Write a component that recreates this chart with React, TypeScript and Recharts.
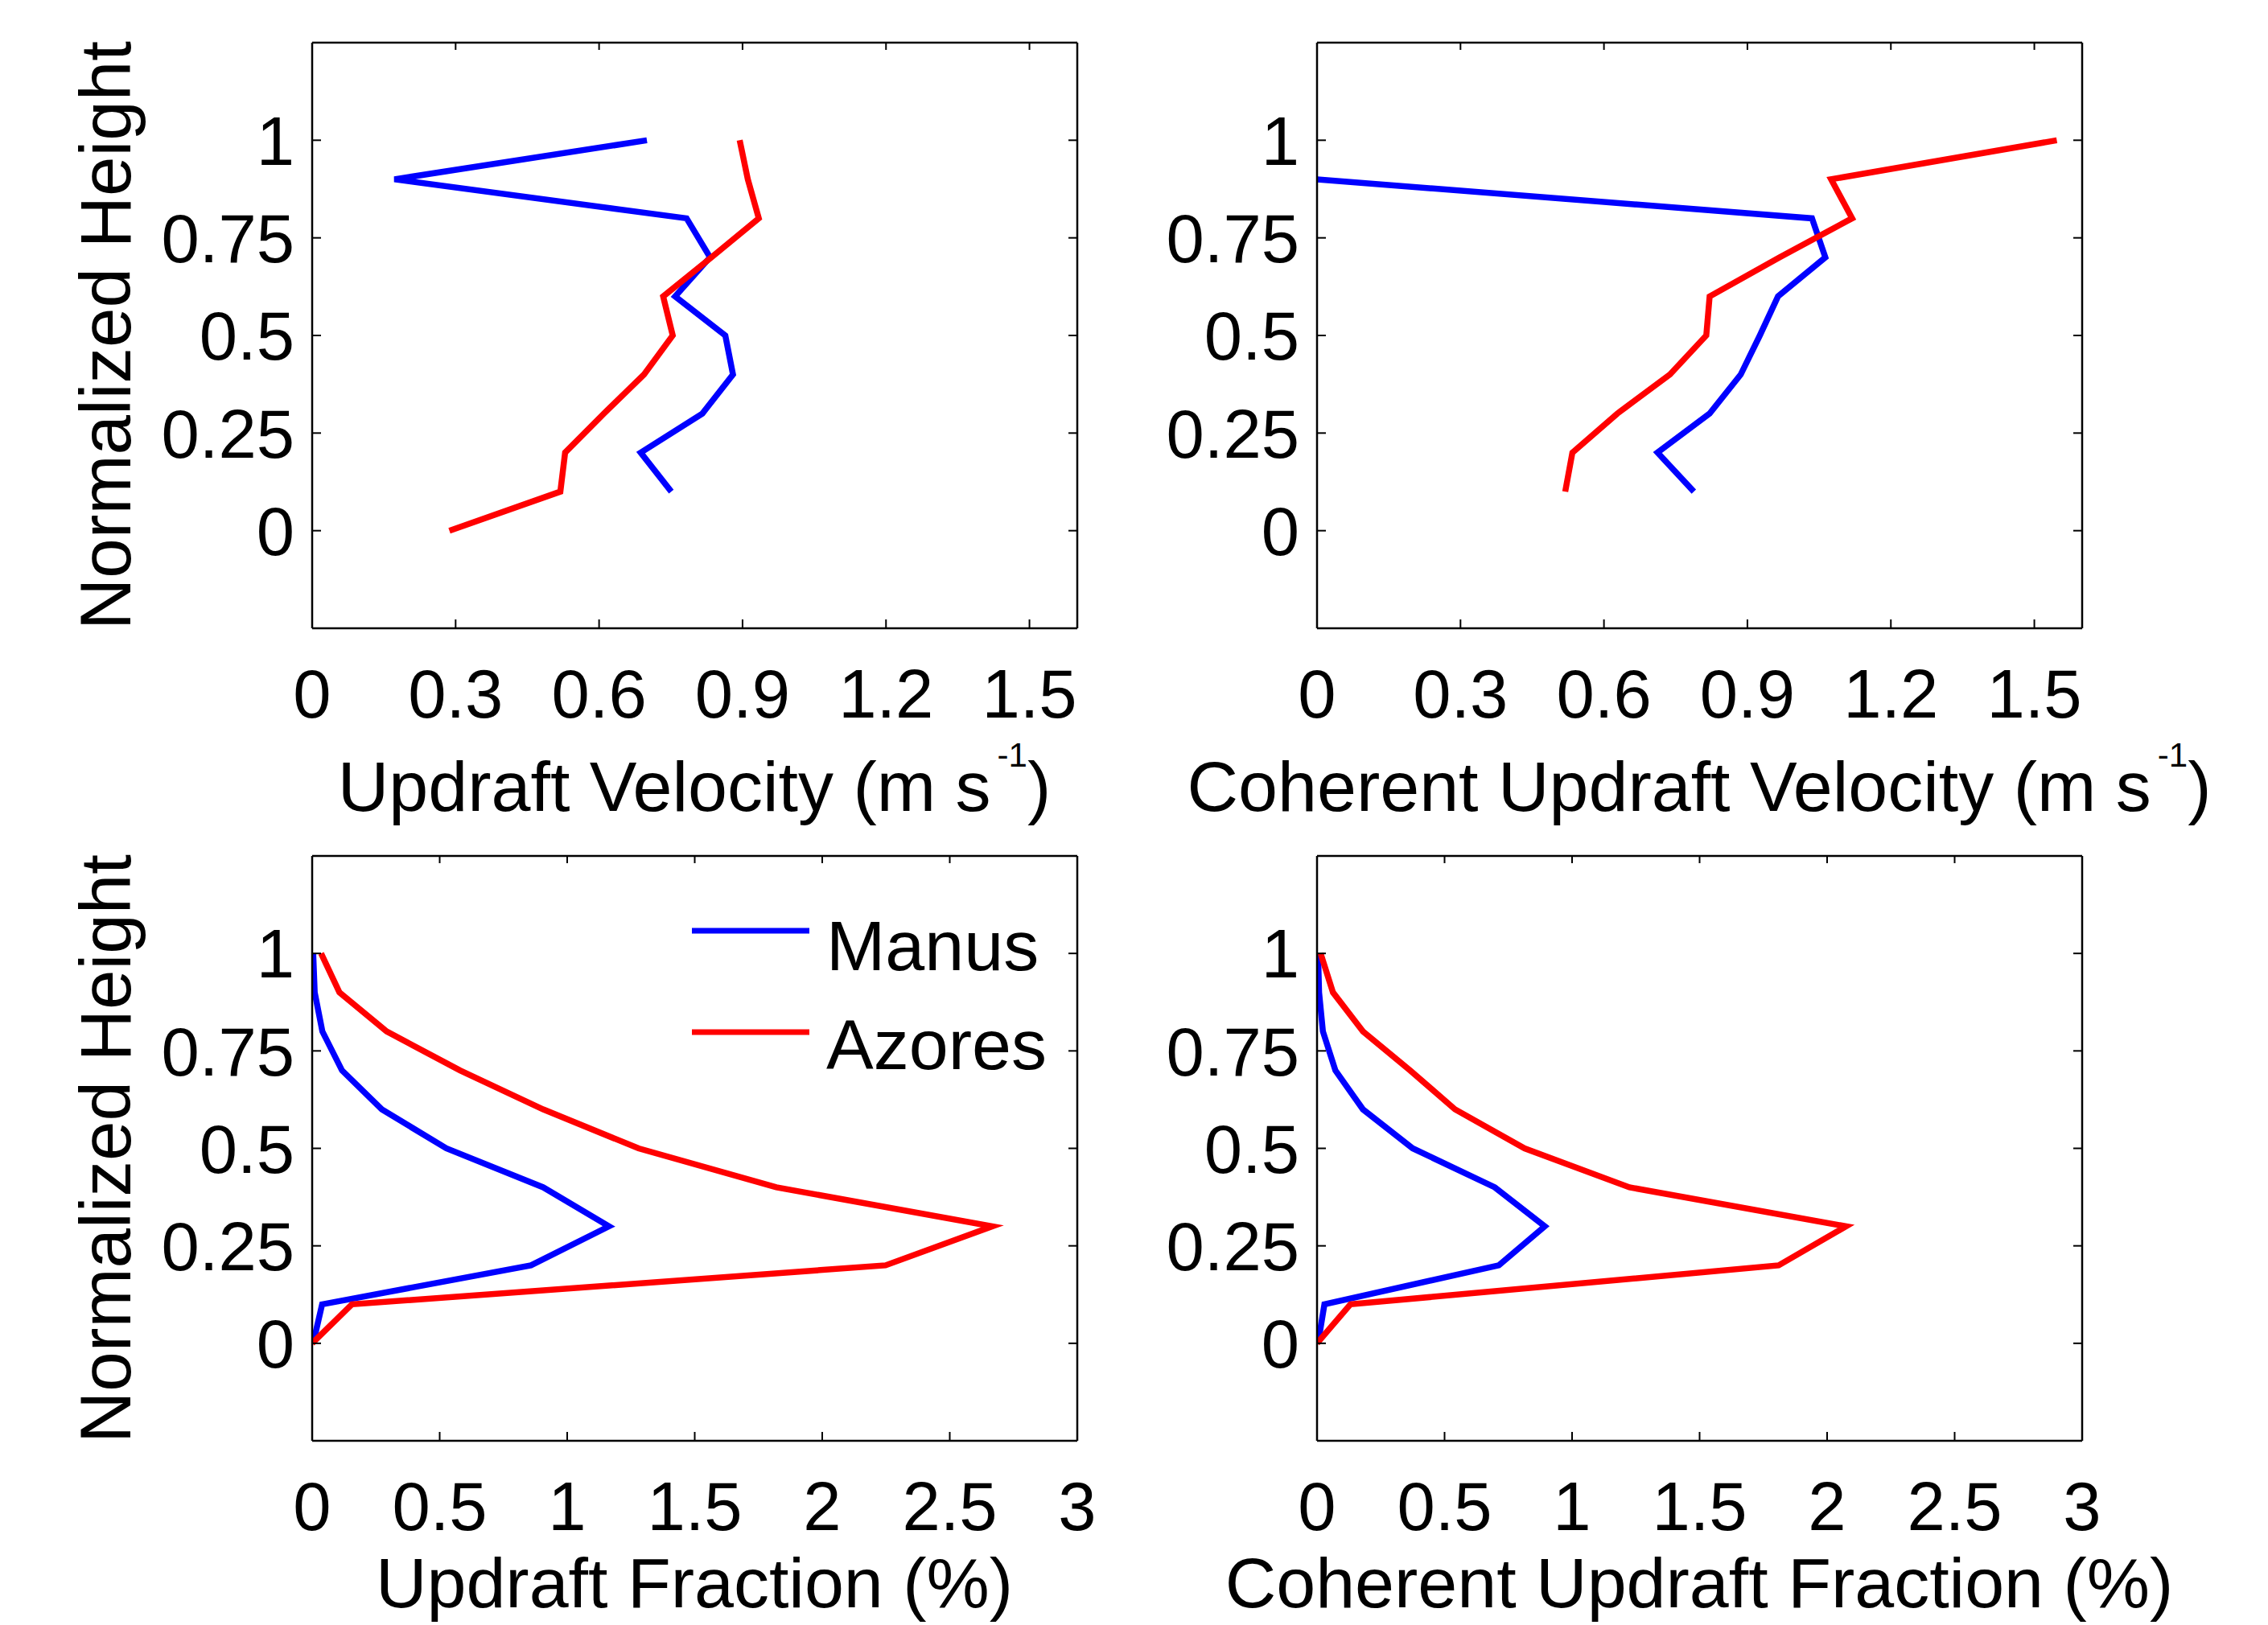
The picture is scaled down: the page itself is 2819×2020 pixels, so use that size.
import { LineChart, Line, XAxis, YAxis, Legend } from 'recharts'

// normalized height levels shared by every panel
const heights = [0, 0.1, 0.2, 0.3, 0.4, 0.5, 0.6, 0.7, 0.8, 0.9, 1.0]

// updraft velocity (m/s)
const velManus = [null, 0.751, 0.687, 0.816, 0.88, 0.864, 0.759, 0.832, 0.783, 0.172, 0.7]
const velAzores = [0.287, 0.519, 0.529, 0.61, 0.694, 0.754, 0.734, 0.835, 0.934, 0.911, 0.894]

// coherent updraft velocity (m/s)
const cohVelManus = [null, 0.788, 0.712, 0.821, 0.886, 0.926, 0.964, 1.063, 1.035, 0.0, null]
const cohVelAzores = [null, 0.519, 0.534, 0.628, 0.738, 0.814, 0.821, 0.967, 1.119, 1.075, 1.547]

// updraft fraction (%)
const fracManus = [0.004, 0.039, 0.858, 1.164, 0.906, 0.526, 0.273, 0.117, 0.04, 0.01, 0.004]
const fracAzores = [0.0, 0.156, 2.248, 2.667, 1.82, 1.28, 0.906, 0.58, 0.292, 0.107, 0.035]

// coherent updraft fraction (%)
const cohFracManus = [0.004, 0.029, 0.713, 0.893, 0.697, 0.375, 0.18, 0.072, 0.023, 0.008, 0.004]
const cohFracAzores = [0.0, 0.131, 1.81, 2.074, 1.225, 0.814, 0.541, 0.365, 0.18, 0.0625, 0.014]

const sites = ['Manus', 'Azores']
const yTicks = [0, 0.25, 0.5, 0.75, 1]
const velTicks = [0, 0.3, 0.6, 0.9, 1.2, 1.5]
const fracTicks = [0, 0.5, 1, 1.5, 2, 2.5, 3]

const FONT = '"Liberation Sans", Arial, Helvetica, sans-serif'
const BLUE = '#0000ff'
const RED = '#ff0000'

function rows(manus: (number | null)[], azores: (number | null)[]) {
  return heights.map((h, i) => ({ h, Manus: manus[i], Azores: azores[i] }))
}

function YTitle() {
  return (
    <text
      x={162}
      y={417}
      transform="rotate(-90 162 417)"
      textAnchor="middle"
      fontSize={89}
      fontFamily={FONT}
      fill="#000"
    >
      Normalized Height
    </text>
  )
}

function XTitle({ text, sup, baseline }: { text: string; sup?: boolean; baseline: number }) {
  return (
    <text x={863} y={baseline} textAnchor="middle" fontSize={88} fontFamily={FONT} fill="#000">
      {text}
      {sup && (
        <tspan fontSize={42} dx={8} dy={-55}>
          -1
        </tspan>
      )}
      {sup && <tspan dy={55}>)</tspan>}
    </text>
  )
}

function LegendBox({ payload }: any) {
  const items = [...(payload ?? [])].sort(
    (a: any, b: any) => sites.indexOf(a.value) - sites.indexOf(b.value)
  )
  return (
    <svg width={460} height={240} style={{ display: 'block' }}>
      {items.map((p: any, i: number) => (
        <g key={p.value}>
          <line x1={10} x2={156} y1={46 + i * 126} y2={46 + i * 126} stroke={p.color} strokeWidth={7} />
          <text x={177} y={95 + i * 123} fontSize={88} fontFamily={FONT} fill="#000">
            {p.value}
          </text>
        </g>
      ))}
    </svg>
  )
}

interface PanelProps {
  data: { h: number; Manus: number | null; Azores: number | null }[]
  xTicks: number[]
  xMax: number
  left: number
  top: number
  width: number
  height: number
  axisHeight: number
  rightMargin: number
  xTitle: string
  sup?: boolean
  titleBaseline: number
  yTitle?: boolean
  legend?: boolean
}

function Panel(p: PanelProps) {
  const tickStyle = { fontSize: 85, fill: '#000', fontFamily: FONT }
  const axisLine = { stroke: '#000', strokeWidth: 2.5 }
  const tickLine = { stroke: '#000', strokeWidth: 2 }
  return (
    <div style={{ position: 'absolute', left: p.left, top: p.top }}>
      <LineChart
        width={p.width}
        height={p.height}
        data={p.data}
        layout="vertical"
        margin={{ top: 52, right: p.rightMargin, bottom: 0, left: 0 }}
      >
        <XAxis
          type="number"
          xAxisId={0}
          domain={[0, p.xMax]}
          allowDataOverflow
          ticks={p.xTicks}
          interval={0}
          height={p.axisHeight}
          tickSize={-11}
          tickMargin={62}
          tick={tickStyle}
          axisLine={axisLine}
          tickLine={tickLine}
          label={<XTitle text={p.xTitle} sup={p.sup} baseline={p.titleBaseline} />}
        />
        <XAxis
          type="number"
          xAxisId="t"
          orientation="top"
          domain={[0, p.xMax]}
          allowDataOverflow
          ticks={p.xTicks}
          interval={0}
          height={1}
          tickSize={-9}
          tick={() => <g />}
          axisLine={axisLine}
          tickLine={tickLine}
        />
        <YAxis
          type="number"
          yAxisId={0}
          dataKey="h"
          reversed
          domain={[-0.25, 1.25]}
          allowDataOverflow
          ticks={yTicks}
          interval={0}
          width={388}
          tickSize={-11}
          tickMargin={33}
          tick={tickStyle}
          axisLine={axisLine}
          tickLine={tickLine}
          label={p.yTitle ? <YTitle /> : undefined}
        />
        <YAxis
          type="number"
          yAxisId="r"
          orientation="right"
          dataKey="h"
          reversed
          domain={[-0.25, 1.25]}
          allowDataOverflow
          ticks={yTicks}
          interval={0}
          width={1}
          tickSize={-11}
          tick={() => <g />}
          axisLine={axisLine}
          tickLine={tickLine}
        />
        <Line
          dataKey="Manus"
          name="Manus"
          stroke={BLUE}
          strokeWidth={7.5}
          dot={false}
          activeDot={false}
          isAnimationActive={false}
        />
        <Line
          dataKey="Azores"
          name="Azores"
          stroke={RED}
          strokeWidth={7.5}
          dot={false}
          activeDot={false}
          isAnimationActive={false}
        />
        {p.legend && (
          <Legend
            layout="vertical"
            align="center"
            verticalAlign="middle"
            wrapperStyle={{ left: 850, top: 100, width: 460, height: 240 }}
            content={<LegendBox />}
          />
        )}
      </LineChart>
    </div>
  )
}

export default function App() {
  return (
    <div style={{ position: 'absolute', left: 0, top: 0, width: 2819, height: 2020, background: '#fff' }}>
      <Panel
        data={rows(velManus, velAzores)}
        xTicks={velTicks}
        xMax={1.6}
        left={0}
        top={0}
        width={1409}
        height={1060}
        axisHeight={279}
        rightMargin={69}
        xTitle="Updraft Velocity (m s"
        sup
        titleBaseline={1008}
        yTitle
      />
      <Panel
        data={rows(cohVelManus, cohVelAzores)}
        xTicks={velTicks}
        xMax={1.6}
        left={1249}
        top={0}
        width={1570}
        height={1060}
        axisHeight={279}
        rightMargin={230}
        xTitle="Coherent Updraft Velocity (m s"
        sup
        titleBaseline={1008}
      />
      <Panel
        data={rows(fracManus, fracAzores)}
        xTicks={fracTicks}
        xMax={3}
        left={0}
        top={1011}
        width={1409}
        height={1009}
        axisHeight={229}
        rightMargin={69}
        xTitle="Updraft Fraction (%)"
        titleBaseline={987}
        yTitle
        legend
      />
      <Panel
        data={rows(cohFracManus, cohFracAzores)}
        xTicks={fracTicks}
        xMax={3}
        left={1249}
        top={1011}
        width={1570}
        height={1009}
        axisHeight={229}
        rightMargin={230}
        xTitle="Coherent Updraft Fraction (%)"
        titleBaseline={987}
      />
    </div>
  )
}
